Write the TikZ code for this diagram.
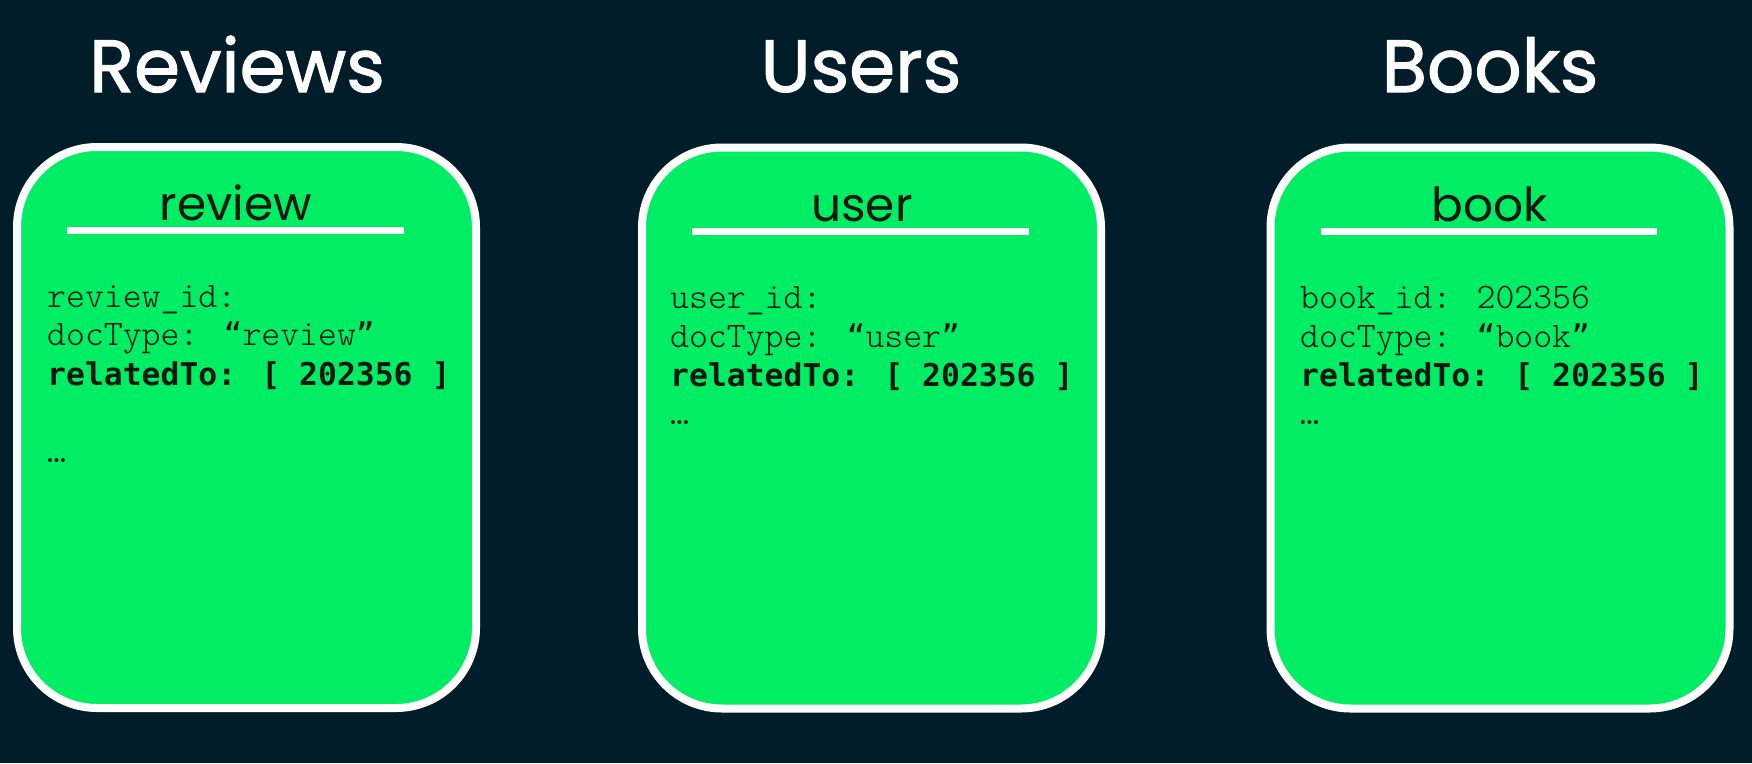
\documentclass[tikz,border=0pt]{standalone}
\usepackage{fontspec}
\newfontfamily\headfont{Poppins}[FakeBold=1.5]
\newfontfamily\titlefont{Poppins}
\newfontfamily\lightmono{Latin Modern Mono Light}
\newfontfamily\boldmono{DejaVu Sans Mono}
\definecolor{bg}{HTML}{021D2A}
\definecolor{docgreen}{HTML}{00ED64}
\definecolor{ink}{HTML}{001810}
\newcommand\myopenq{{\boldmono\fontsize{31.4}{36}\selectfont “}}
\newcommand\mycloseq{{\boldmono\fontsize{31.4}{36}\selectfont ”}}
\begin{document}
\begin{tikzpicture}[x=1pt,y=-1pt,
  docbox/.style={draw=white, line width=8pt, fill=docgreen, rounded corners=80pt,
    minimum width=459pt, minimum height=561pt, inner sep=0pt, outer sep=0pt},
  header/.style={text=white, font=\headfont\fontsize{74}{80}\selectfont, anchor=base, inner sep=0pt},
  doctitle/.style={text=ink, font=\titlefont\fontsize{47}{50}\selectfont, anchor=base, inner sep=0pt},
  field/.style={text=ink, font=\lightmono\fontsize{36}{40}\selectfont, anchor=base west, inner sep=0pt},
  keyfield/.style={text=ink, font=\boldmono\bfseries\fontsize{31.4}{36}\selectfont, anchor=base west, inner sep=0pt},
  titlerule/.style={draw=white, line width=7pt}]
\useasboundingbox (0,0) rectangle (1752,763);
\fill[bg] (0,0) rectangle (1752,763);

% headers
\node[header] (hRev) at (237,92) {Reviews};
\node[header] (hUsr) at (861,92) {Users};
\node[header] (hBk) at (1490,92) {Books};

% boxes
\node[docbox] (bRev) at (246.5,427.5) {};
\node[docbox] (bUsr) at (871.5,428) {};
\node[docbox] (bBk) at (1500,428) {};

% titles
\node[doctitle] (tRev) at (236,220) {review};
\node[doctitle] (tUsr) at (862,221) {user};
\node[doctitle] (tBk) at (1490,221) {book};

% title rules
\coordinate (rRevA) at (67,230); \coordinate (rRevB) at (404,230);
\coordinate (rUsrA) at (692,231); \coordinate (rUsrB) at (1029,231);
\coordinate (rBkA) at (1321,231); \coordinate (rBkB) at (1657,231);
\draw[titlerule] (rRevA) -- (rRevB);
\draw[titlerule] (rUsrA) -- (rUsrB);
\draw[titlerule] (rBkA) -- (rBkB);

% review fields
\node[field] (fRev1) at (47,307) {review\_id:};
\node[field] (fRev2) at (47,345) {docType: \myopenq review\mycloseq};
\node[keyfield] (fRev3) at (47,385) {relatedTo: [ 202356 ]};
\node[field] (fRev4) at (47,462) {…};

% user fields
\node[field] (fUsr1) at (670,308) {user\_id:};
\node[field] (fUsr2) at (670,347) {docType: \myopenq user\mycloseq};
\node[keyfield] (fUsr3) at (670,386) {relatedTo: [ 202356 ]};
\node[field] (fUsr4) at (670,424) {…};

% book fields
\node[field] (fBk1) at (1300,308) {book\_id: 202356};
\node[field] (fBk2) at (1300,347) {docType: \myopenq book\mycloseq};
\node[keyfield] (fBk3) at (1300,386) {relatedTo: [ 202356 ]};
\node[field] (fBk4) at (1300,424) {…};
\end{tikzpicture}
\end{document}
